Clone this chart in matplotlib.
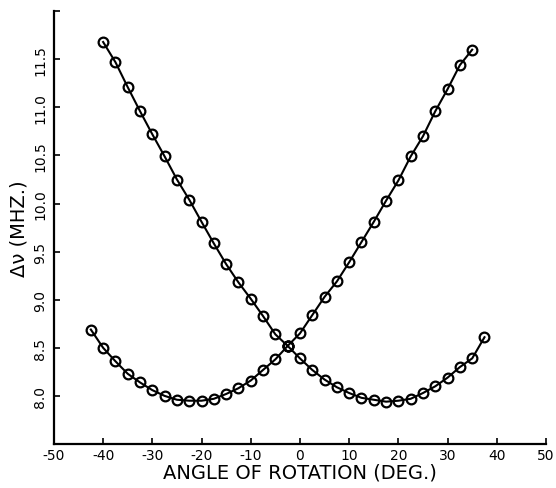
import numpy as np
import matplotlib
matplotlib.use("Agg")
import matplotlib.pyplot as plt

# descending branch (left) and ascending branch (right)
desc_x = [-40, -37.5, -35, -32.5, -30, -27.5, -25, -22.5, -20, -17.5, -15, -12.5, -10, -7.5, -5, -2.5]
desc_y = [11.68, 11.47, 11.21, 10.96, 10.72, 10.49, 10.25, 10.04, 9.81, 9.585, 9.37, 9.18, 9.01, 8.83, 8.64, 8.52]

asc_x = [-2.5, 0, 2.5, 5, 7.5, 10, 12.5, 15, 17.5, 20, 22.5, 25, 27.5, 30, 32.5, 35]
asc_y = [8.52, 8.65, 8.84, 9.03, 9.19, 9.39, 9.60, 9.81, 10.03, 10.24, 10.49, 10.70, 10.96, 11.19, 11.44, 11.60]

# the two U-shaped branches
uleft_x = [-42.5, -40, -37.5, -35, -32.5, -30, -27.5, -25, -22.5, -20, -17.5, -15, -12.5, -10, -7.5, -5, -2.5]
uleft_y = [8.69, 8.50, 8.36, 8.23, 8.14, 8.06, 8.00, 7.96, 7.95, 7.95, 7.97, 8.02, 8.08, 8.16, 8.27, 8.38, 8.52]

uright_x = [-2.5, 0, 2.5, 5, 7.5, 10, 12.5, 15, 17.5, 20, 22.5, 25, 27.5, 30, 32.5, 35, 37.5]
uright_y = [8.52, 8.39, 8.27, 8.17, 8.09, 8.03, 7.98, 7.96, 7.94, 7.95, 7.97, 8.03, 8.10, 8.19, 8.30, 8.39, 8.61]

xticks = [-50, -40, -30, -20, -10, 0, 10, 20, 30, 40, 50]
yticks = [8.0, 8.5, 9.0, 9.5, 10.0, 10.5, 11.0, 11.5, 12.0]
ytick_labels = ["8.0", "8.5", "9.0", "9.5", "10.0", "10.5", "11.0", "11.5", ""]

fig = plt.figure(figsize=(5.56, 4.89), dpi=100)
ax = fig.add_axes([0.097, 0.09, 0.885, 0.885])

style = dict(color="black", lw=1.5, marker="o", ms=7, mfc="none", mec="black", mew=1.6)
for xs, ys in [(desc_x, desc_y), (asc_x, asc_y), (uleft_x, uleft_y), (uright_x, uright_y)]:
    ax.plot(xs, ys, **style)

ax.set_xlim(-50, 50)
ax.set_ylim(7.5, 12.0)
ax.set_xticks(xticks)
ax.set_xticklabels([str(t) for t in xticks], fontsize=10)
ax.set_yticks(yticks)
ax.set_yticklabels(ytick_labels, fontsize=10, rotation=90, va="center")
ax.tick_params(direction="in", length=4, width=1.2, pad=5)
ax.tick_params(axis="x", pad=3)

for s in ["top", "right"]:
    ax.spines[s].set_visible(False)
for s in ["left", "bottom"]:
    ax.spines[s].set_linewidth(1.6)

ax.set_xlabel("ANGLE OF ROTATION (DEG.)", fontsize=14, labelpad=0)
ax.set_ylabel("\u0394\u03bd (MHZ.)", fontsize=14, labelpad=3)

fig.savefig("out.png", dpi=100)
